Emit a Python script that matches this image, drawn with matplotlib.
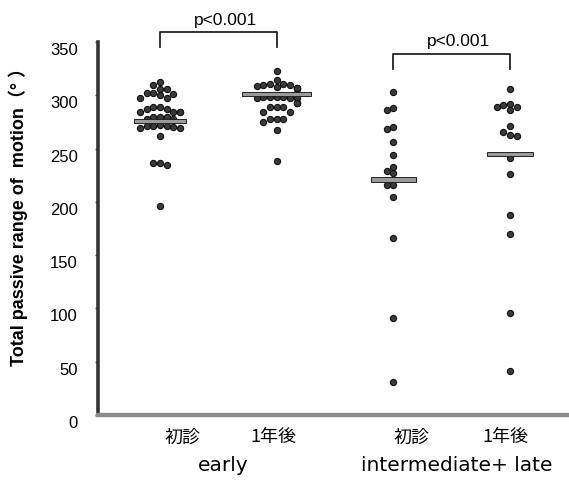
import numpy as np
import matplotlib
matplotlib.use("Agg")
import matplotlib.pyplot as plt
from matplotlib.transforms import ScaledTranslation, blended_transform_factory

# values (degrees)
early_pre = [312, 310, 306, 306, 302, 301, 302, 300, 297, 297, 289, 289, 287, 287,
             284, 284, 284, 284, 280, 280, 280, 278, 278, 271, 271, 271, 272, 270,
             269, 269, 262, 235, 236, 236, 196]
early_post = [323, 314, 308, 309, 311, 311, 310, 310, 306, 307, 307, 307, 298, 297,
              298, 298, 297, 298, 297, 293, 293, 293, 289, 289, 289, 284, 284, 278,
              278, 278, 275, 267, 238]
late_pre = [303, 288, 286, 270, 268, 256, 244, 233, 229, 227, 216, 216, 205, 166, 91, 31]
late_post = [306, 292, 289, 291, 286, 289, 271, 263, 266, 262, 241, 226, 188, 170, 96, 41]
mean_lines = [276, 301, 221, 245]

tick_labels = ["初診", "1年後", "初診", "1年後"]
group_labels = ["early", "intermediate+ late"]
p_labels = ["p<0.001", "p<0.001"]
yticks = [0, 50, 100, 150, 200, 250, 300, 350]

series = [early_pre, early_post, late_pre, late_post]
positions = [1, 2, 3, 4]
bar_widths = [0.44, 0.59, 0.39, 0.39]
label_x = [1.19, 1.97, 3.16, 3.96]
group_x = [1.54, 3.54]

CJK = ["Noto Sans CJK JP", "DejaVu Sans"]


def swarm(values, center, step=0.057, gap=5.6):
    # simple dot-plot layout: put each point in the nearest free column
    values = np.asarray(values, dtype=float)
    xs = np.empty(len(values))
    placed = []
    for i in np.argsort(-values):
        v = values[i]
        for k in [0, -1, 1, -2, 2, -3, 3]:
            if all(pk != k or abs(v - pv) >= gap for pv, pk in placed):
                break
        placed.append((v, k))
        xs[i] = center + k * step
    return xs


fig = plt.figure(figsize=(5.69, 4.85), dpi=100)
ax = fig.add_axes([98 / 569, 69 / 485, 470 / 569, 373 / 485])

for vals, pos, m, w in zip(series, positions, mean_lines, bar_widths):
    ax.scatter(swarm(vals, pos), vals, s=20, facecolor="#3a3a3a",
               edgecolor="#111111", linewidth=0.8, zorder=3)
    ax.bar(pos, 4, bottom=m - 2, width=w, color="#9a9a9a",
           edgecolor="#222222", linewidth=0.7, zorder=4)

ax.set_xlim(0.469, 4.497)
ax.set_ylim(0, 350)

ax.spines["top"].set_visible(False)
ax.spines["right"].set_visible(False)
ax.spines["left"].set_linewidth(2.6)
ax.spines["left"].set_color("#333333")
ax.spines["bottom"].set_linewidth(3.2)
ax.spines["bottom"].set_color("#8c8c8c")

ax.set_yticks(yticks)
ax.set_yticklabels([str(t) for t in yticks], fontsize=12, family="Liberation Sans")
ax.tick_params(axis="y", length=2.5, width=1, pad=12, color="#333333")
shift = ScaledTranslation(0, -6 / 100, fig.dpi_scale_trans)
for lab in ax.get_yticklabels():
    lab.set_transform(lab.get_transform() + shift)

ax.set_xticks(label_x)
ax.set_xticklabels(tick_labels, fontsize=13, family=CJK)
ax.tick_params(axis="x", length=0, pad=9)

trans = blended_transform_factory(ax.transData, ax.transAxes)
for gx, gl in zip(group_x, group_labels):
    ax.text(gx, -0.134, gl, transform=trans, ha="center", va="center",
            fontsize=14.5, family="DejaVu Sans")

# significance brackets
brackets = [(1, 2, 359, 345, 371), (3, 4, 339, 325, 351)]
for (x1, x2, top, leg, ty), pl in zip(brackets, p_labels):
    ax.plot([x1, x1, x2, x2], [leg, top, top, leg], color="#222222",
            linewidth=1.3, clip_on=False)
    ax.text((x1 + x2) / 2 + 0.06, ty, pl, ha="center", va="center", fontsize=12.5,
            family="Liberation Sans", clip_on=False)

fig.text(18 / 569, 1 - 212 / 485, "Total passive range of  motion（° ）",
         rotation=90, ha="center", va="center", fontsize=13,
         fontweight="bold", family=["Liberation Sans", "Noto Sans CJK JP"])

fig.savefig("out.png", dpi=100)
